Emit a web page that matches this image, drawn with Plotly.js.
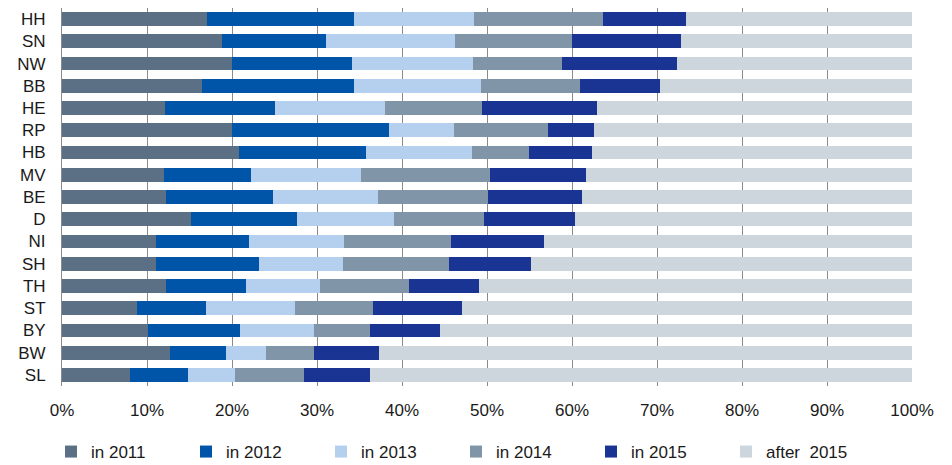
<!DOCTYPE html>
<html>
<head>
<meta charset="utf-8">
<script src="https://cdn.plot.ly/plotly-3.0.1.min.js"></script>
<style>
  html, body { margin: 0; padding: 0; background: #fff; }
  #chart { width: 952px; height: 465px; }
</style>
</head>
<body>
<div id="chart"></div>
<script>
const regions = ["HH","SN","NW","BB","HE","RP","HB","MV","BE","D","NI","SH","TH","ST","BY","BW","SL"];
const seriesNames = ["in 2011","in 2012","in 2013","in 2014","in 2015","after  2015"];

const in2011 = [17.0,18.8,20.0,16.5,12.1,20.0,20.8,11.95,12.2,15.15,11.05,11.0,12.2,8.8,10.1,12.65,7.95];
const in2012 = [17.35,12.25,14.1,17.85,13.0,18.45,14.95,10.3,12.6,12.5,11.0,12.15,9.45,8.15,10.85,6.7,6.85];
const in2013 = [14.15,15.15,14.2,14.9,12.95,7.65,12.5,12.9,12.35,11.45,11.1,9.85,8.7,10.45,8.7,4.7,5.55];
const in2014 = [15.1,13.8,10.5,11.65,11.35,11.1,6.7,15.2,13.0,10.6,12.65,12.55,10.45,9.2,6.6,5.6,8.15];
const in2015 = [9.8,12.8,13.5,9.5,13.5,5.4,7.4,11.3,11.0,10.7,10.85,9.65,8.25,10.5,8.25,7.7,7.75];
const after2015 = regions.map((_, i) => +(100 - in2011[i] - in2012[i] - in2013[i] - in2014[i] - in2015[i]).toFixed(2));

const tickVals = [0,10,20,30,40,50,60,70,80,90,100];
const tickText = ["0%","10%","20%","30%","40%","50%","60%","70%","80%","90%","100%"];

const colors = ["#5C7085","#0055A8","#B4D0EE","#8095A8","#1A3494","#CDD5DD"];
const allValues = [in2011, in2012, in2013, in2014, in2015, after2015];

const traces = allValues.map((vals, k) => ({
  type: "bar",
  orientation: "h",
  name: seriesNames[k],
  y: regions,
  x: vals,
  marker: { color: colors[k], line: { width: 0 } },
  hoverinfo: "x+y+name"
}));

const font = "Arial, 'Liberation Sans', sans-serif";

const layout = {
  width: 952,
  height: 465,
  margin: { l: 62, r: 40, t: 8, b: 79 },
  barmode: "stack",
  bargap: 0.38,
  paper_bgcolor: "#ffffff",
  plot_bgcolor: "#ffffff",
  font: { family: font, size: 17, color: "#1a1a1a" },
  xaxis: {
    range: [0, 100],
    tickvals: tickVals,
    ticktext: tickText,
    showgrid: true,
    gridcolor: "#8a8a8a",
    gridwidth: 1,
    zeroline: false,
    showline: false,
    ticks: "",
    ticklabelstandoff: 12,
    tickfont: { family: font, size: 17, color: "#1a1a1a" },
    fixedrange: true
  },
  yaxis: {
    autorange: "reversed",
    type: "category",
    showgrid: false,
    zeroline: false,
    showline: true,
    linecolor: "#8a8a8a",
    linewidth: 1,
    ticks: "",
    ticklabelstandoff: 12,
    tickfont: { family: font, size: 17, color: "#1a1a1a" },
    fixedrange: true
  },
  showlegend: true,
  legend: {
    orientation: "h",
    xref: "container",
    yref: "container",
    x: 51 / 952,
    xanchor: "left",
    y: 1 - 452 / 465,
    yanchor: "middle",
    entrywidth: 90,
    entrywidthmode: "pixels",
    itemwidth: 30,
    traceorder: "normal",
    font: { family: font, size: 17, color: "#1a1a1a" },
    bgcolor: "rgba(0,0,0,0)"
  }
};

Plotly.newPlot("chart", traces, layout, { displayModeBar: false, staticPlot: false });
</script>
</body>
</html>
